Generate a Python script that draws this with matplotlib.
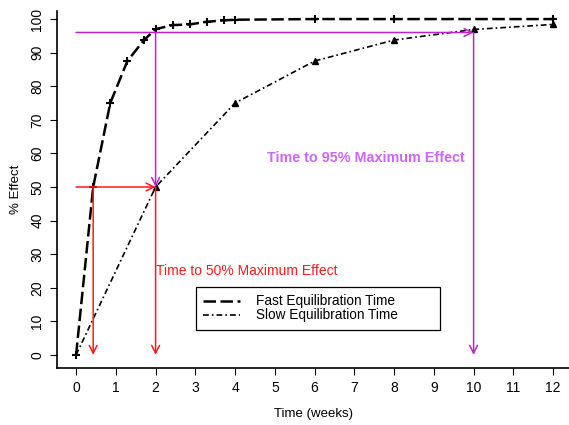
import matplotlib
matplotlib.use("Agg")
import matplotlib.pyplot as plt

plt.rcParams['font.family'] = ['Liberation Sans', 'DejaVu Sans']

# Fast equilibration (half-life about 3 days)
fast_t = [0, 0.43, 0.86, 1.29, 1.71, 2.0, 2.43, 2.86, 3.29, 3.71, 4.0, 6, 8, 12]
fast_effect = [0, 50, 75, 87.5, 93.75, 97, 98.2, 98.4, 99.2, 99.6, 99.8, 100, 100, 100]

# Slow equilibration (half-life 2 weeks)
slow_t = [0, 2, 4, 6, 8, 10, 12]
slow_effect = [0, 50, 75, 87.5, 93.75, 96.9, 98.4]

half_level = 50
near_max_level = 96
fast_t50 = 0.43
slow_t50 = 2
fast_t95 = 2
slow_t95 = 10

x_ticks = list(range(0, 13))
y_ticks = list(range(0, 101, 10))

red = '#FF1A1A'
magenta = '#C020D0'
violet = '#CC66FF'

fig = plt.figure(figsize=(5.69, 4.25), dpi=100)
ax = fig.add_axes([57 / 569, 57 / 425, 512 / 569, 357 / 425])

# curves
ax.plot(fast_t, fast_effect, color='black', lw=1.8, dashes=(5, 1.8),
        label='Fast Equilibration Time')
ax.plot(slow_t, slow_effect, color='black', lw=1.2, dashes=(3.5, 1.8, 1, 1.8),
        label='Slow Equilibration Time')
ax.plot(fast_t, fast_effect, ls='none', marker='+', ms=6, mew=1.5, color='black')
ax.plot(slow_t[1:], slow_effect[1:], ls='none', marker='^', ms=4.5, color='black')

arrow_kw = dict(arrowstyle='->', lw=1.1, mutation_scale=14, shrinkA=0, shrinkB=0)

# 95% maximum effect guides
ax.annotate('', xy=(slow_t95, near_max_level), xytext=(0, near_max_level),
            arrowprops=dict(color=magenta, **arrow_kw))
ax.annotate('', xy=(fast_t95, half_level), xytext=(fast_t95, near_max_level),
            arrowprops=dict(color=magenta, **arrow_kw))
ax.annotate('', xy=(slow_t95, 0), xytext=(slow_t95, near_max_level),
            arrowprops=dict(color=magenta, **arrow_kw))

# 50% maximum effect guides
ax.annotate('', xy=(slow_t50, half_level), xytext=(0, half_level),
            arrowprops=dict(color=red, **arrow_kw))
ax.annotate('', xy=(fast_t50, 0), xytext=(fast_t50, half_level),
            arrowprops=dict(color=red, **arrow_kw))
ax.annotate('', xy=(slow_t50, 0), xytext=(slow_t50, half_level),
            arrowprops=dict(color=red, **arrow_kw))

ax.text(7.3, 58.6, 'Time to 95% Maximum Effect', color=violet, fontsize=10.4,
        fontweight='bold', ha='center', va='center')
ax.text(2.02, 25, 'Time to 50% Maximum Effect', color=red, fontsize=10,
        ha='left', va='center')

ax.set_xlim(-0.48, 12.4)
ax.set_ylim(-3.9, 102.4)
ax.set_xticks(x_ticks)
ax.set_yticks(y_ticks)
ax.tick_params(labelsize=10, length=5, width=0.8, direction='out', pad=4)
for lbl in ax.get_yticklabels():
    lbl.set_rotation(90)
    lbl.set_va('center')
ax.spines['top'].set_visible(False)
ax.spines['right'].set_visible(False)
ax.spines['left'].set_linewidth(1.2)
ax.spines['bottom'].set_linewidth(1.2)

ax.set_xlabel('Time (weeks)', fontsize=9.5, labelpad=10)
ax.set_ylabel('% Effect', fontsize=9.5, labelpad=6)

leg = ax.legend(loc='upper left', bbox_to_anchor=(0.271, 0.101, 0.477, 0.126),
                mode='expand', borderaxespad=0, fontsize=9.8, fancybox=False,
                edgecolor='black', framealpha=1, handlelength=2.7,
                handletextpad=1.2, labelspacing=0.0, borderpad=0.55)
leg.get_frame().set_linewidth(0.9)

fig.savefig('out.png', dpi=100)
